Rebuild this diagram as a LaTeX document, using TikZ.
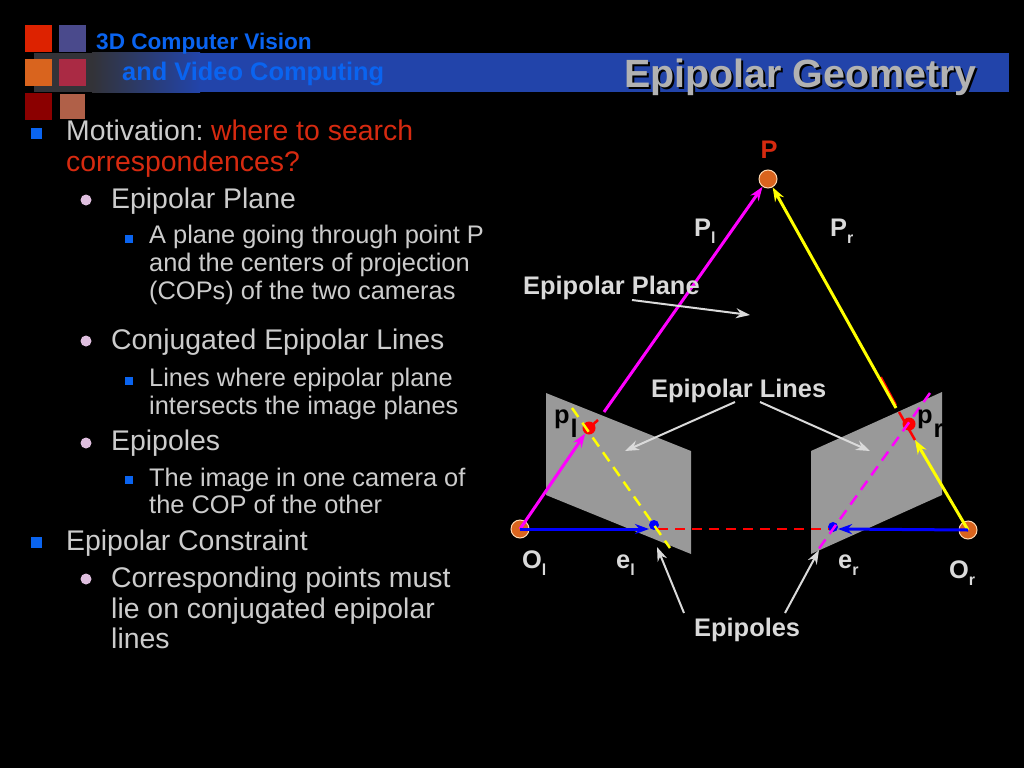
\documentclass[tikz,border=0pt]{standalone}
\usepackage{fontspec}
\setmainfont{Liberation Sans}
\usetikzlibrary{arrows.meta}
\definecolor{txtgray}{HTML}{CCCCCC}
\definecolor{lblgray}{HTML}{DADADA}
\definecolor{hotred}{HTML}{D62A10}
\definecolor{headblue}{HTML}{0A64F0}
\definecolor{barblue}{HTML}{2244AA}
\definecolor{bardark}{HTML}{333338}
\definecolor{dotorange}{HTML}{D9641E}
\definecolor{planegray}{HTML}{999999}
\definecolor{raymag}{HTML}{FF00FF}
\definecolor{rayyel}{HTML}{FFFF00}
\definecolor{rayblue}{HTML}{0000FF}
\definecolor{rayred}{HTML}{FF0000}
\definecolor{sqa}{HTML}{DD2200}
\definecolor{sqb}{HTML}{4A4A8C}
\definecolor{sqc}{HTML}{AA2A44}
\definecolor{sqd}{HTML}{8B0000}
\definecolor{sqe}{HTML}{B06048}
\newcommand{\subtxt}[1]{\raisebox{-.3em}{\fontsize{16}{16}\selectfont #1}}
\newcommand{\lowtxt}[1]{\hspace{1pt}\raisebox{-14pt}{#1}}
\tikzset{
    bodytxt/.style={anchor=base west, inner sep=0, text=txtgray, font=\fontsize{28.4}{28.4}\selectfont},
    smalltxt/.style={anchor=base west, inner sep=0, text=txtgray, font=\fontsize{25.4}{25.4}\selectfont},
    lbl/.style={anchor=base west, inner sep=0, text=lblgray, font=\bfseries\fontsize{25.4}{25.4}\selectfont},
    blacklbl/.style={anchor=base west, inner sep=0, text=black, font=\bfseries\fontsize{25.4}{25.4}\selectfont},
    hdtxt/.style={anchor=base west, inner sep=0, text=headblue, font=\bfseries},
    optcenter/.style={circle, fill=dotorange, draw=orange!30!white, line width=1pt, minimum size=18pt, inner sep=0},
    imgdot/.style={circle, minimum size=13pt, inner sep=0},
    epidot/.style={circle, minimum size=10pt, inner sep=0},
    greyarrow/.style={->, draw=lblgray, line width=2pt},
    imgplane/.style={fill=planegray},
}
\begin{document}
\begin{tikzpicture}[>={Stealth[length=14pt,width=10pt]}, x=1pt, y=-1pt]
\fill[black](0,0)rectangle(1024,768);
\useasboundingbox (0,0) rectangle (1024,768);
% header bar
\fill[bardark](34,53)rectangle(92,92);
\begin{scope}
\clip(92,53)rectangle(200,92);
\shade[left color=bardark, right color=barblue](92,53)rectangle(200,92);
\end{scope}
\fill[barblue](199,53)rectangle(1009,92);
\fill[sqa](25,25)rectangle(52,52);
\fill[sqb](59,25)rectangle(86,52);
\fill[dotorange](25,59)rectangle(52,86);
\fill[sqc](59,59)rectangle(86,86);
\fill[sqd](25,93)rectangle(52,120);
\fill[sqe](60,94)rectangle(85,119);
\node[hdtxt, font=\bfseries\fontsize{22.6}{22.6}\selectfont] (hdone) at (96,49) {3D Computer Vision};
\node[hdtxt, font=\bfseries\fontsize{25.4}{25.4}\selectfont] (hdtwo) at (122,81) {and Video Computing};
\node[anchor=base west, inner sep=0, text=black, font=\bfseries\fontsize{39.4}{39.4}\selectfont] (titleshadow) at (626,89) {Epipolar Geometry};
\node[anchor=base west, inner sep=0, text=black!30!white, font=\bfseries\fontsize{39.4}{39.4}\selectfont] (title) at (624,87) {Epipolar Geometry};
% bullets
\foreach \y in {133,542}
{
    \fill[headblue](30.5,\y-5.5)rectangle(41.5,\y+5.5);
}
\foreach \y in {200,341,443,579}
{
    \fill[violet!25!white](86,\y) circle (5.5);
}
\foreach \y in {239,381,480}
{
    \fill[headblue](125,\y-4)rectangle(133,\y+4);
}
% left text
\node[bodytxt] (motiv) at (66,140) {Motivation: \hspace{-3pt}\textcolor{hotred}{where to search}};
\node[bodytxt, text=hotred] (corr) at (66,171) {correspondences?};
\node[bodytxt] (eplane) at (111,208) {Epipolar Plane};
\node[smalltxt] (defa) at (149,243) {A plane going through point P};
\node[smalltxt] (defb) at (149,271) {and the centers of projection};
\node[smalltxt] (defc) at (149,299) {(COPs) of the two cameras};
\node[bodytxt] (conj) at (111,349) {Conjugated Epipolar Lines};
\node[smalltxt] (lina) at (149,386) {Lines where epipolar plane};
\node[smalltxt] (linb) at (149,414) {intersects the image planes};
\node[bodytxt] (epis) at (111,450) {Epipoles};
\node[smalltxt] (imga) at (149,486) {The image in one camera of};
\node[smalltxt] (imgb) at (149,513) {the COP of the other};
\node[bodytxt] (cons) at (66,550) {Epipolar Constraint};
\node[bodytxt] (coa) at (111,587) {Corresponding points must};
\node[bodytxt] (cob) at (111,618) {lie on conjugated epipolar};
\node[bodytxt] (coc) at (111,648) {lines};
% image planes
\fill[imgplane](546,393)--(691,451)--(691,554)--(546,495)--cycle;
\fill[imgplane](811,451)--(942,392)--(942,495)--(811,554)--cycle;
% points
\node[optcenter] (P) at (768,179) {};
\node[optcenter] (Ol) at (520,529) {};
\node[optcenter] (Or) at (968,530) {};
\node[imgdot, fill=rayred] (pl) at (589,428) {};
\node[imgdot, fill=rayred] (pr) at (909,424) {};
\node[epidot, fill=rayblue] (el) at (654,525) {};
\node[epidot, fill=rayblue] (er) at (833,527) {};
\coordinate (lefttop) at (604,412);
\coordinate (righttop) at (896,408);
\coordinate (ltick) at (598,420);
\coordinate (rtick) at (899,412);
\coordinate (rlow) at (915,440);
\coordinate (slivera) at (881,377);
\coordinate (sliverb) at (896,405);
\coordinate (ya) at (572,408);
\coordinate (yb) at (670,548);
\coordinate (ma) at (930,393);
\coordinate (mb) at (818,550);
\coordinate (redl) at (658,529);
\coordinate (redr) at (829,529);
\coordinate (blueltip) at (649,529);
\coordinate (bluertip) at (838,529);
% rays
\draw[rayred, line width=2.5pt](ltick)--(pl.center);
\draw[rayred, line width=2.5pt](rtick)--(rlow);
\draw[rayred, line width=2pt](slivera)--(sliverb);
\draw[->, raymag, line width=3pt](Ol.center)--(pl);
\draw[->, raymag, line width=3pt](lefttop)--(P);
\draw[->, rayyel, line width=3pt](righttop)--(P);
\draw[->, rayyel, line width=3pt](Or.center)--(rlow);
\draw[->, rayblue, line width=3pt](Ol.center)--(blueltip);
\draw[->, rayblue, line width=3pt](Or.center)--(bluertip);
\draw[rayred, line width=2.5pt, dash pattern=on 10pt off 7pt](redl)--(redr);
\draw[rayyel, line width=2.5pt, dash pattern=on 11pt off 7pt](ya)--(yb);
\draw[raymag, line width=2.5pt, dash pattern=on 11pt off 7pt](ma)--(mb);
% labels
\node[anchor=base, inner sep=0, text=hotred, font=\bfseries\fontsize{25.4}{25.4}\selectfont] (Plbl) at (769,158) {P};
\node[lbl] (Pllbl) at (694,236) {P\subtxt{l}};
\node[lbl] (Prlbl) at (830,236) {P\subtxt{r}};
\node[lbl] (planelbl) at (523,294) {Epipolar Plane};
\node[lbl] (lineslbl) at (651,397) {Epipolar Lines};
\node[lbl] (epilbl) at (694,636) {Epipoles};
\node[blacklbl] (pllbl) at (554,423) {p\lowtxt{l}};
\node[blacklbl] (prlbl) at (917,423) {p\lowtxt{r}};
\node[lbl] (Ollbl) at (522,568) {O\subtxt{l}};
\node[lbl] (ellbl) at (616,568) {e\subtxt{l}};
\node[lbl] (erlbl) at (838,568) {e\subtxt{r}};
\node[lbl] (Orlbl) at (949,578) {O\subtxt{r}};
% pointers
\coordinate (planetip) at (750,315);
\coordinate (planetail) at (632,300);
\coordinate (lltail) at (735,402);
\coordinate (lltip) at (625,451);
\coordinate (lrtail) at (760,402);
\coordinate (lrtip) at (870,451);
\coordinate (eltail) at (684,613);
\coordinate (eltip) at (657,547);
\coordinate (ertail) at (785,613);
\coordinate (ertip) at (819,550);
\draw[greyarrow](planetail)--(planetip);
\draw[greyarrow](lltail)--(lltip);
\draw[greyarrow](lrtail)--(lrtip);
\draw[greyarrow](eltail)--(eltip);
\draw[greyarrow](ertail)--(ertip);
\end{tikzpicture}
\end{document}
